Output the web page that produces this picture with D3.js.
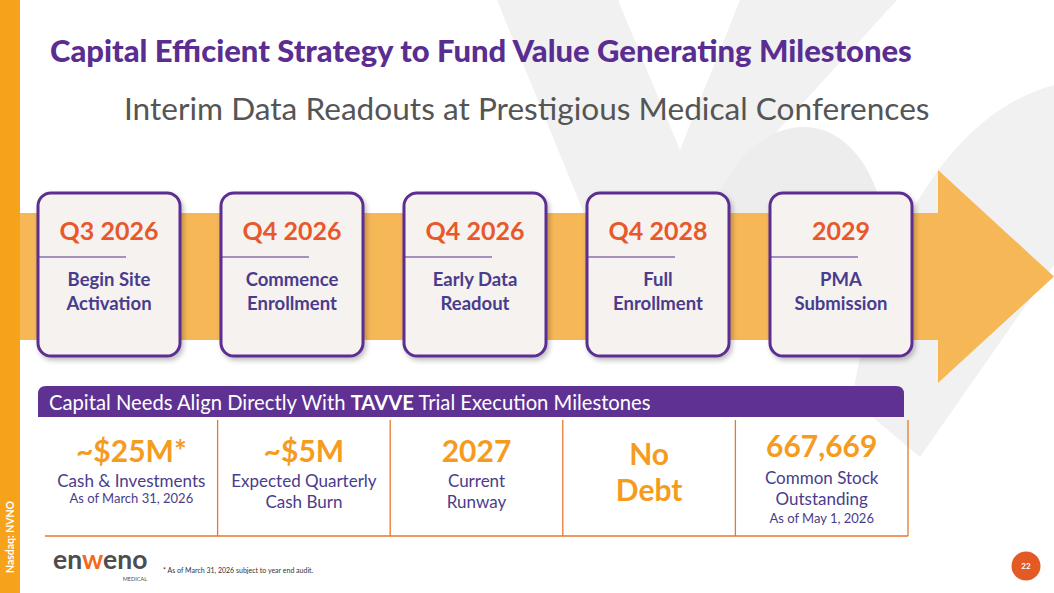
<!DOCTYPE html>
<html>
<head>
<meta charset="utf-8">
<script src="https://cdn.jsdelivr.net/npm/d3@7"></script>
<style>
  body { margin: 0; background: #fff; }
  svg { display: block; }
</style>
</head>
<body>
<div id="slide"></div>
<script>
// Slide data
const titleText = 'Capital Efficient Strategy to Fund Value Generating Milestones';
const subtitleText = 'Interim Data Readouts at Prestigious Medical Conferences';

const milestoneDates = ['Q3 2026', 'Q4 2026', 'Q4 2026', 'Q4 2028', '2029'];
const milestoneLabels = [
  ['Begin Site', 'Activation'],
  ['Commence', 'Enrollment'],
  ['Early Data', 'Readout'],
  ['Full', 'Enrollment'],
  ['PMA', 'Submission']
];

const capitalValues = ['~$25M*', '~$5M', '2027', 'No Debt', '667,669'];
const capitalLabels = [
  ['Cash & Investments'],
  ['Expected Quarterly', 'Cash Burn'],
  ['Current', 'Runway'],
  [],
  ['Common Stock', 'Outstanding']
];
const capitalNotes = ['As of March 31, 2026', '', '', '', 'As of May 1, 2026'];

const footnote = '* As of March 31, 2026 subject to year end audit.';
const pageNumber = '22';
const tickerText = 'Nasdaq: NVNO';

const width = 1054;
const height = 593;
const purple = '#5B2D91';
const orange = '#F59B1E';
const redOrange = '#E8582A';
const labelPurple = '#4A3C8C';

const svg = d3.select('#slide')
  .append('svg')
  .attr('width', width)
  .attr('height', height);

// Drop shadow for the milestone cards
const defs = svg.append('defs');
defs.append('filter')
  .attr('id', 'shadow')
  .attr('x', '-20%').attr('y', '-20%')
  .attr('width', '140%').attr('height', '140%')
  .append('feDropShadow')
  .attr('dx', 2).attr('dy', 3)
  .attr('stdDeviation', 2.5)
  .attr('flood-color', '#000')
  .attr('flood-opacity', 0.25);

svg.append('rect')
  .attr('width', width).attr('height', height)
  .attr('fill', '#fff');

// Background watermark (faint logo shapes)
const mark = svg.append('g').attr('fill', '#F1F1F1');
mark.append('path')
  .attr('d', 'M497,0 L618,0 L680,150 L740,0 L897,0 L655,265 L605,265 Z');
mark.append('path')
  .attr('d', 'M706,250 C715,120 850,70 884,215 L860,300 Z')
  .attr('fill', '#EDEDED');
mark.append('path')
  .attr('d', 'M1054,85 C960,110 880,220 852,400 L920,457 L1054,265 Z');

// Left orange bar with ticker
svg.append('rect')
  .attr('x', 0).attr('y', 0)
  .attr('width', 20).attr('height', height)
  .attr('fill', '#F7A21B');

const ticker = svg.append('text')
  .attr('transform', 'translate(14,537) rotate(-90)')
  .attr('text-anchor', 'middle')
  .attr('font-family', 'Lato, sans-serif')
  .attr('font-weight', 'bold')
  .attr('font-size', 10)
  .attr('fill', '#fff')
  .text(tickerText);

// Fit a text element to a target width
function fitWidth(sel, target) {
  const w = sel.node().getComputedTextLength();
  const fs = parseFloat(sel.attr('font-size'));
  sel.attr('font-size', fs * target / w);
}
fitWidth(ticker, 72);

const title = svg.append('text')
  .attr('x', 50).attr('y', 62)
  .attr('font-family', 'Lato, sans-serif')
  .attr('font-weight', 900)
  .attr('font-size', 28)
  .attr('fill', purple)
  .text(titleText);
fitWidth(title, 862);

const subtitle = svg.append('text')
  .attr('x', 124).attr('y', 120)
  .attr('font-family', 'Lato, sans-serif')
  .attr('font-size', 28)
  .attr('fill', '#555')
  .text(subtitleText);
fitWidth(subtitle, 806);

// Arrow behind the milestone cards
const arrowY = d3.scaleLinear().domain([0, 1]).range([170, 383]);
const bandTop = 213, bandBottom = 340, headX = 938;
svg.append('path')
  .attr('d', d3.line()([
    [20, bandTop], [headX, bandTop], [headX, arrowY(0)],
    [width, (arrowY(0) + arrowY(1)) / 2],
    [headX, arrowY(1)], [headX, bandBottom], [20, bandBottom]
  ]) + 'Z')
  .attr('fill', '#F6B757');

// Milestone cards
const x = d3.scaleBand()
  .domain(d3.range(milestoneDates.length))
  .range([38, 912])
  .paddingInner(0.224)
  .paddingOuter(0);

const cardTop = 193, cardH = 163;

const card = svg.append('g')
  .selectAll('g')
  .data(milestoneDates.map((d, i) => ({ date: d, label: milestoneLabels[i], i })))
  .join('g')
  .attr('transform', d => `translate(${x(d.i)},${cardTop})`);

card.append('rect')
  .attr('width', x.bandwidth())
  .attr('height', cardH)
  .attr('rx', 13)
  .attr('fill', '#F5F2EF')
  .attr('stroke', purple)
  .attr('stroke-width', 3)
  .attr('filter', 'url(#shadow)');

card.append('text')
  .attr('x', x.bandwidth() / 2)
  .attr('y', 47)
  .attr('text-anchor', 'middle')
  .attr('font-family', 'Lato, sans-serif')
  .attr('font-weight', 'bold')
  .attr('font-size', 25)
  .attr('fill', redOrange)
  .text(d => d.date);

card.append('line')
  .attr('x1', 1).attr('x2', 88)
  .attr('y1', 64).attr('y2', 64)
  .attr('stroke', purple)
  .attr('stroke-width', 1.2);

card.selectAll('.lbl')
  .data(d => d.label)
  .join('text')
  .attr('class', 'lbl')
  .attr('x', x.bandwidth() / 2)
  .attr('y', (d, j) => 93 + j * 24)
  .attr('text-anchor', 'middle')
  .attr('font-family', 'Lato, sans-serif')
  .attr('font-weight', 'bold')
  .attr('font-size', 18.5)
  .attr('fill', labelPurple)
  .text(d => d);

// Capital needs header bar
const hx0 = 38, hx1 = 904, hy0 = 386, hy1 = 417, r = 8;
svg.append('path')
  .attr('d', `M${hx0},${hy1} L${hx0},${hy0 + r} Q${hx0},${hy0} ${hx0 + r},${hy0}
              L${hx1 - r},${hy0} Q${hx1},${hy0} ${hx1},${hy0 + r} L${hx1},${hy1} Z`)
  .attr('fill', '#5E3193');

const header = svg.append('text')
  .attr('x', 49).attr('y', 410)
  .attr('font-family', 'Lato, sans-serif')
  .attr('font-size', 18)
  .attr('fill', '#fff');
header.append('tspan').text('Capital Needs Align Directly With ');
header.append('tspan').attr('font-weight', 'bold').text('TAVVE');
header.append('tspan').text(' Trial Execution Milestones');
fitWidth(header, 602);

// Capital table
const col = d3.scaleBand()
  .domain(d3.range(capitalValues.length))
  .range([45, 908]);

const tableTop = 420, tableBottom = 536;
const tbl = svg.append('g');

tbl.append('line')
  .attr('x1', 45).attr('x2', 908)
  .attr('y1', tableBottom).attr('y2', tableBottom)
  .attr('stroke', '#E8772E').attr('stroke-width', 1.3);

tbl.selectAll('.vline')
  .data(d3.range(capitalValues.length))
  .join('line')
  .attr('class', 'vline')
  .attr('x1', i => col(i) + col.bandwidth())
  .attr('x2', i => col(i) + col.bandwidth())
  .attr('y1', tableTop).attr('y2', tableBottom)
  .attr('stroke', '#E8772E').attr('stroke-width', 1.3);

const cell = tbl.selectAll('.cell')
  .data(capitalValues.map((v, i) => ({ v, label: capitalLabels[i], note: capitalNotes[i], i })))
  .join('g')
  .attr('class', 'cell')
  .attr('transform', d => `translate(${col(d.i) + col.bandwidth() / 2},0)`);

// value lines: "No Debt" is split over two large lines
cell.each(function (d) {
  const g = d3.select(this);
  const big = d.label.length === 0 ? d.v.split(' ') : [d.v];
  const bigY = d.label.length === 0 ? [465, 501] : [d.note && d.label.length > 1 ? 457 : 462];
  big.forEach((t, j) => {
    g.append('text')
      .attr('y', bigY[j])
      .attr('text-anchor', 'middle')
      .attr('font-family', 'Lato, sans-serif')
      .attr('font-weight', 'bold')
      .attr('font-size', 30)
      .attr('fill', orange)
      .text(t);
  });
  const base = d.note && d.label.length > 1 ? 484 : 487;
  d.label.forEach((t, j) => {
    g.append('text')
      .attr('y', base + j * 21)
      .attr('text-anchor', 'middle')
      .attr('font-family', 'Lato, sans-serif')
      .attr('font-size', 17)
      .attr('fill', labelPurple)
      .text(t);
  });
  if (d.note) {
    g.append('text')
      .attr('y', d.label.length > 1 ? 523 : 503)
      .attr('text-anchor', 'middle')
      .attr('font-family', 'Lato, sans-serif')
      .attr('font-size', 13)
      .attr('fill', labelPurple)
      .text(d.note);
  }
});

// Logo
const logo = svg.append('text')
  .attr('x', 53).attr('y', 569)
  .attr('font-family', 'Lato, sans-serif')
  .attr('font-weight', 'bold')
  .attr('font-size', 26.5)
  .attr('fill', '#4D4D4F');
logo.append('tspan').text('en');
logo.append('tspan').attr('fill', '#F26A21').text('w');
logo.append('tspan').text('eno');

svg.append('text')
  .attr('x', 147).attr('y', 581)
  .attr('text-anchor', 'end')
  .attr('font-family', 'Lato, sans-serif')
  .attr('font-size', 5.5)
  .attr('fill', '#4D4D4F')
  .text('MEDICAL');

svg.append('text')
  .attr('x', 163).attr('y', 573)
  .attr('font-family', 'Lato, sans-serif')
  .attr('font-size', 7)
  .attr('fill', '#333')
  .text(footnote);

// Page number
svg.append('circle')
  .attr('cx', 1026).attr('cy', 566)
  .attr('r', 14.5)
  .attr('fill', '#E45A25');

svg.append('text')
  .attr('x', 1026).attr('y', 569)
  .attr('text-anchor', 'middle')
  .attr('font-family', 'Lato, sans-serif')
  .attr('font-weight', 'bold')
  .attr('font-size', 8)
  .attr('fill', '#fff')
  .text(pageNumber);
</script>
</body>
</html>
